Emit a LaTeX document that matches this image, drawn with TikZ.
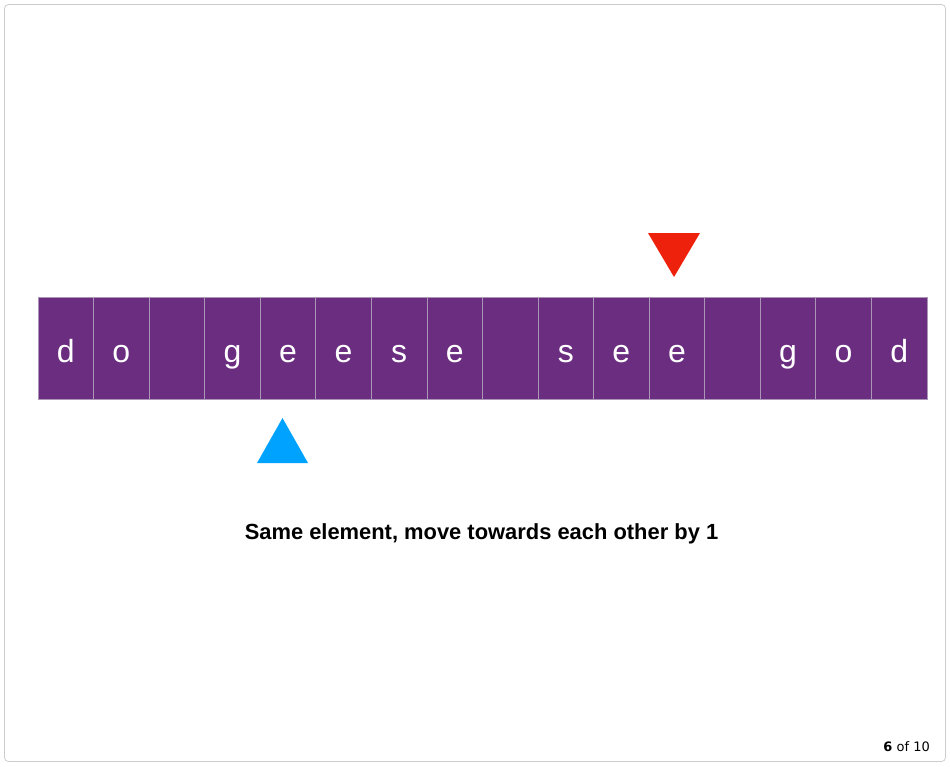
\documentclass[tikz,border=0pt]{standalone}
\usepackage{fontspec}
\setmainfont{Liberation Sans}
\newfontfamily\pagefont{DejaVu Sans}
\usetikzlibrary{positioning}
\definecolor{slidepurple}{RGB}{107,45,128}
\definecolor{slideline}{RGB}{172,150,184}
\definecolor{slideblue}{RGB}{0,162,255}
\definecolor{slidered}{RGB}{238,34,12}
\definecolor{slideframe}{RGB}{204,204,204}

\begin{document}
\begin{tikzpicture}[
  x=1pt,y=-1pt,
  cell/.style={draw=slideline,fill=slidepurple,text=white,line width=0.8pt,
    minimum width=55.56pt,minimum height=102pt,inner sep=0pt,
    font=\fontsize{32}{32}\selectfont,text height=28pt,text depth=0pt},
  caption/.style={font=\fontsize{21.9}{26}\selectfont\bfseries}
]
  \useasboundingbox (0,0) rectangle (950,766);
  % Slide frame
  \draw[slideframe,line width=0.8pt,rounded corners=4pt] (4.5,4.5) rectangle (945.5,761.5);
  % Cells
  \foreach \ch [count=\i from 0] in {d,o,{},g,e,e,s,e,{},s,e,e,{},g,o,d}
    \node[cell] (cell\i) at (65.78+55.56*\i,348) {\ch};
  % Pointers
  \fill[slidered] (648,233) -- (700,233) -- (674,277) -- cycle;
  \fill[slideblue] (257,463) -- (308,463) -- (282.5,418) -- cycle;
  % Caption
  \node[caption] (msg) at (481.5,534) {Same element, move towards each other by 1};
  % Page number
  \node[font=\pagefont\fontsize{13}{15}\selectfont,anchor=base east,inner sep=0pt] (page) at (930,751) {\textbf{6} of 10};
\end{tikzpicture}
\end{document}
